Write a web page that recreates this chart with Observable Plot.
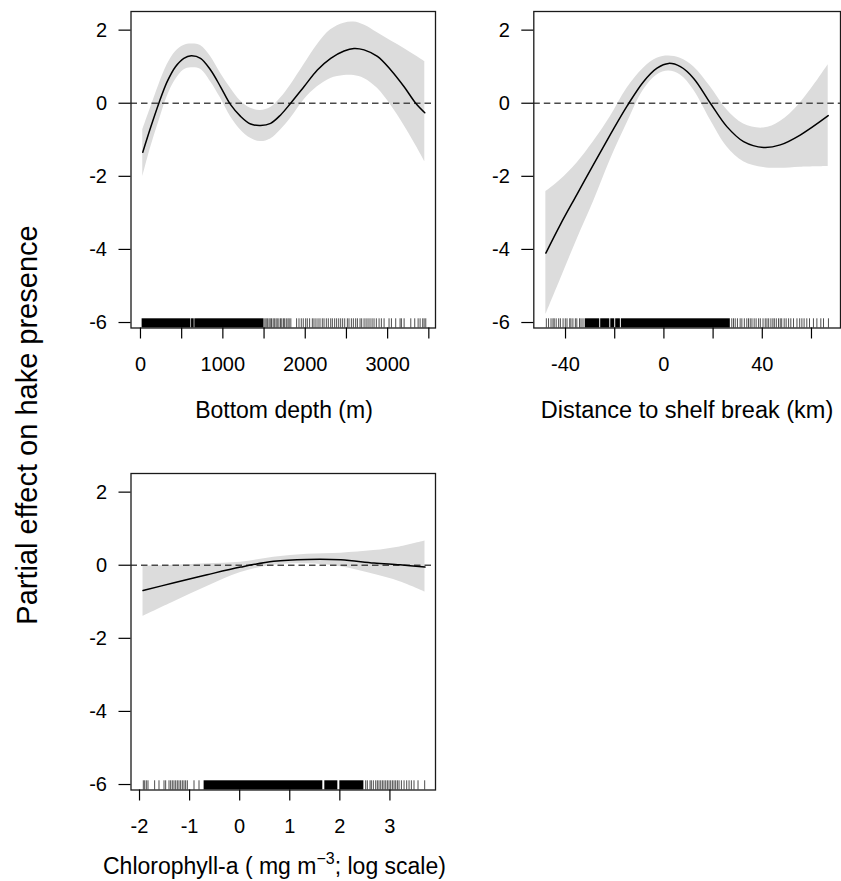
<!DOCTYPE html>
<html><head><meta charset="utf-8">
<script src="https://cdn.jsdelivr.net/npm/d3@7"></script>
<script src="https://cdn.jsdelivr.net/npm/@observablehq/plot@0.6"></script>
<style>
body{margin:0;background:#fff;}
#fig{position:relative;width:841px;height:881px;overflow:hidden;background:#fff;font-family:"Liberation Sans",Arial,sans-serif;}
#fig svg{position:absolute;}
</style></head><body><div id="fig"></div>
<script>
// ---- shared y axis ----
const yTicks = [2, 0, -2, -4, -6];
const yDomain = [-6.15, 2.51];
const yTitle = "Partial effect on hake presence";

// ---- panel 1: bottom depth ----
const depthTitle = "Bottom depth (m)";
const depthX     = [28, 121, 223, 324, 425, 526, 616, 729, 851, 972, 1094, 1215, 1337, 1458, 1580, 1701, 1823, 1984, 2147, 2309, 2471, 2592, 2714, 2876, 3038, 3200, 3341, 3451];
const depthFit   = [-1.34, -0.68, 0.0, 0.59, 1.00, 1.23, 1.30, 1.23, 0.91, 0.45, -0.04, -0.36, -0.57, -0.61, -0.55, -0.32, 0.0, 0.45, 0.91, 1.23, 1.43, 1.50, 1.46, 1.28, 0.91, 0.45, 0.0, -0.26];
const depthUpper = [-0.73, -0.14, 0.50, 1.05, 1.41, 1.58, 1.62, 1.58, 1.28, 0.82, 0.41, 0.06, -0.14, -0.20, -0.12, 0.14, 0.50, 1.05, 1.60, 2.01, 2.19, 2.22, 2.14, 1.93, 1.71, 1.50, 1.30, 1.14];
const depthLower = [-2.01, -1.23, -0.50, 0.18, 0.64, 0.91, 0.97, 0.93, 0.59, 0.14, -0.37, -0.73, -0.96, -1.05, -0.98, -0.73, -0.41, 0.09, 0.45, 0.68, 0.76, 0.76, 0.68, 0.41, -0.05, -0.61, -1.15, -1.60];
const depthTicks = [0, 500, 1000, 1500, 2000, 2500, 3000, 3500];
const depthLabels = [0, 1000, 2000, 3000];
const depthRugSpans = [[20, 612], [620, 652], [660, 1500]];
const depthRugTicks = [1510, 1525, 1540, 1560, 1575, 1590, 1610, 1625, 1645, 1660, 1680, 1700, 1715, 1735, 1750, 1770, 1790, 1805, 1825, 1895, 1924, 1952, 1976, 2005, 2025, 2053, 2086, 2106, 2130, 2155, 2179, 2207, 2228, 2256, 2280, 2309, 2329, 2357, 2381, 2406, 2430, 2454, 2479, 2511, 2531, 2560, 2584, 2612, 2633, 2665, 2685, 2714, 2738, 2762, 2786, 2811, 2835, 2863, 2896, 2924, 2957, 3017, 3046, 3098, 3151, 3167, 3200, 3281, 3329, 3370, 3394, 3426, 3443, 3463];

// ---- panel 2: distance to shelf break ----
const shelfTitle = "Distance to shelf break (km)";
const shelfX     = [-48.0, -42.1, -35.4, -28.6, -21.8, -15.0, -8.3, -2.8, 1.9, 6.7, 12.1, 18.9, 25.6, 32.4, 40.5, 47.3, 55.4, 66.8];
const shelfFit   = [-4.10, -3.32, -2.50, -1.67, -0.86, -0.08, 0.59, 0.96, 1.09, 1.00, 0.68, 0.0, -0.64, -1.05, -1.21, -1.14, -0.87, -0.34];
const shelfUpper = [-2.42, -2.10, -1.64, -1.05, -0.37, 0.41, 0.96, 1.23, 1.29, 1.23, 1.00, 0.45, -0.18, -0.57, -0.68, -0.50, 0.0, 1.05];
const shelfLower = [-5.79, -4.83, -3.74, -2.69, -1.55, -0.55, 0.36, 0.77, 0.88, 0.77, 0.36, -0.46, -1.19, -1.60, -1.76, -1.78, -1.75, -1.73];
const shelfTicks = [-40, -20, 0, 20, 40, 60];
const shelfLabels = [-40, 0, 40];
const shelfRugSpans = [[-32.0, -26.1], [-25.7, -22.0], [-21.6, -20.0], [-19.6, -17.7], [-17.3, 27.0]];
const shelfRugTicks = [-47.8, -46.9, -45.9, -45.1, -44.6, -43.8, -42.8, -42.1, -41.0, -40.1, -39.4, -38.3, -37.8, -37.0, -36.0, -35.4, -34.3, -33.7, -32.9, 27.6, 28.3, 29.0, 29.9, 31.0, 31.7, 32.7, 33.7, 34.4, 35.1, 35.8, 36.7, 37.5, 38.5, 39.2, 40.3, 41.2, 41.9, 42.6, 43.5, 44.3, 44.9, 45.7, 46.6, 47.3, 47.9, 48.9, 49.7, 50.7, 51.6, 52.7, 54.1, 55.2, 56.1, 57.0, 58.1, 59.2, 60.8, 62.2, 63.8, 64.9, 66.9];

// ---- panel 3: chlorophyll-a (log) ----
const chlTitleMain = "Chlorophyll-a ( mg m";
const chlTitleSup = "\u22123";
const chlTitleEnd = "; log scale)";
const chlX     = [-1.93, -1.31, -0.65, 0.02, 0.68, 1.35, 2.02, 2.68, 3.20, 3.70];
const chlFit   = [-0.69, -0.48, -0.26, -0.05, 0.11, 0.16, 0.15, 0.06, 0.01, -0.05];
const chlUpper = [-0.03, 0.00, 0.04, 0.08, 0.22, 0.30, 0.33, 0.40, 0.50, 0.66];
const chlLower = [-1.40, -1.00, -0.58, -0.20, 0.00, 0.04, -0.04, -0.25, -0.45, -0.73];
const chlTicks = [-2, -1, 0, 1, 2, 3];
const chlLabels = [-2, -1, 0, 1, 2, 3];
const chlRugSpans = [[-0.71, 1.66], [1.70, 1.96], [2.00, 2.48]];
const chlRugTicks = [-1.924, -1.897, -1.864, -1.831, -1.698, -1.611, -1.511, -1.478, -1.411, -1.378, -1.345, -1.312, -1.278, -1.245, -1.212, -1.179, -1.145, -1.112, -1.079, -1.045, -0.912, -0.812, 2.516, 2.549, 2.603, 2.629, 2.669, 2.716, 2.749, 2.782, 2.816, 2.849, 2.882, 2.916, 2.949, 2.982, 3.015, 3.049, 3.082, 3.115, 3.149, 3.182, 3.229, 3.282, 3.335, 3.382, 3.428, 3.481, 3.561, 3.694];

const FONT = "Liberation Sans, Arial, Helvetica, sans-serif";
const fig = document.getElementById("fig");

function panel(o) {
  const data = o.x.map((v, i) => ({x: v, fit: o.fit[i], lo: o.lo[i], hi: o.hi[i]}));
  const W = o.width, H = 440, mt = 11, mb = 112.5;
  const frameH = H - mt - mb;
  const rugInset = frameH - 9.2;
  const svg = Plot.plot({
    width: W, height: H,
    marginTop: mt, marginBottom: mb, marginLeft: o.ml, marginRight: o.mr,
    x: {domain: o.xDomain},
    y: {domain: yDomain},
    style: {fontFamily: FONT, fontSize: "20px", color: "#000", background: "transparent", overflow: "visible"},
    marks: [
      Plot.areaY(data, {x: "x", y1: "lo", y2: "hi", fill: "#dcdcdc", curve: "catmull-rom"}),
      Plot.ruleY([0], {stroke: "#4a4a4a", strokeWidth: 1.3, strokeDasharray: "6.5,4"}),
      Plot.lineY(data, {x: "x", y: "fit", stroke: "#000", strokeWidth: 1.5, curve: "catmull-rom"}),
      Plot.rect(o.rugSpans, {x1: d => d[0], x2: d => d[1], insetTop: rugInset, fill: "#000"}),
      Plot.ruleX(o.rugTicks, {insetTop: rugInset, stroke: "#000", strokeWidth: 0.7}),
      Plot.frame({stroke: "#1a1a1a", strokeWidth: 1.3}),
      Plot.axisX({ticks: o.ticks, tickFormat: d => o.labels.includes(d) ? String(d) : "",
                  tickSize: 11, tickPadding: 18, strokeWidth: 1.2, fontSize: 20, label: null}),
      Plot.axisY({ticks: yTicks, tickFormat: d => String(d),
                  tickSize: 12, tickPadding: 12, strokeWidth: 1.2, fontSize: 20, label: null})
    ]
  });
  svg.style.left = o.left + "px";
  svg.style.top = o.top + "px";
  fig.appendChild(svg);
}

panel({x: depthX, fit: depthFit, lo: depthLower, hi: depthUpper, xDomain: [-115, 3581],
       ticks: depthTicks, labels: depthLabels, rugSpans: depthRugSpans, rugTicks: depthRugTicks,
       left: 0, top: 0, width: 441, ml: 130.5, mr: 6});
panel({x: shelfX, fit: shelfFit, lo: shelfLower, hi: shelfUpper, xDomain: [-52.9, 71.8],
       ticks: shelfTicks, labels: shelfLabels, rugSpans: shelfRugSpans, rugTicks: shelfRugTicks,
       left: 403, top: 0, width: 438, ml: 130.3, mr: 1});
panel({x: chlX, fit: chlFit, lo: chlLower, hi: chlUpper, xDomain: [-2.17, 3.91],
       ticks: chlTicks, labels: chlLabels, rugSpans: chlRugSpans, rugTicks: chlRugTicks,
       left: 0, top: 461.7, width: 441, ml: 130.5, mr: 6});

// ---- titles overlay ----
const ov = d3.create("svg").attr("width", 841).attr("height", 881)
  .style("left", "0px").style("top", "0px").style("font-family", FONT).attr("fill", "#000");
ov.append("text").attr("x", 284).attr("y", 418).attr("text-anchor", "middle")
  .attr("font-size", 23).text(depthTitle);
ov.append("text").attr("x", 687).attr("y", 418).attr("text-anchor", "middle")
  .attr("font-size", 23.5).text(shelfTitle);
const ct = ov.append("text").attr("x", 103).attr("y", 874).attr("text-anchor", "start").attr("font-size", 23);
ct.append("tspan").text(chlTitleMain);
ct.append("tspan").attr("font-size", 16).attr("dy", -10).text(chlTitleSup);
ct.append("tspan").attr("dy", 10).text(chlTitleEnd);
ov.append("text").attr("transform", "translate(36.5,425) rotate(-90)").attr("text-anchor", "middle")
  .attr("font-size", 29).text(yTitle);
fig.appendChild(ov.node());
</script>
</body></html>
